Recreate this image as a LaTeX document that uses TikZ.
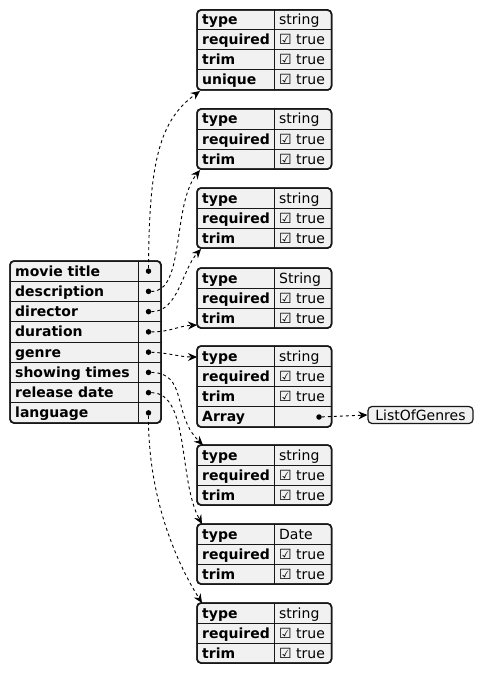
\documentclass[tikz,border=0pt]{standalone}
\usepackage{fontspec}
\setmainfont{DejaVu Sans}
\usetikzlibrary{arrows.meta}
\definecolor{tabfill}{HTML}{F1F1F1}
\definecolor{tabline}{HTML}{181818}
\tikzset{
 tabbox/.style={draw=tabline, fill=tabfill, line width=1.5pt, rounded corners=4pt, inner sep=0pt, outer sep=0pt, anchor=north west},
 rowline/.style={draw=tabline, line width=1pt},
 keytxt/.style={anchor=base west, inner sep=0pt, font=\fontsize{14}{16}\selectfont\bfseries},
 valtxt/.style={anchor=base west, inner sep=0pt, font=\fontsize{14}{16}\selectfont},
 dotmark/.style={circle, fill=black, inner sep=0pt, minimum size=5.5pt},
 link/.style={draw=black, line width=0.9pt, dash pattern=on 3pt off 3pt, -{Stealth[length=9pt,width=8pt,inset=3pt]}},
}
% #1 name, #2 left x, #3 top y, #4 width, #5 divider x, #6 nrows, #7 row height, #8 key x, #9 list
\newcommand\jtab[9]{%
  \node[tabbox, minimum width=#4pt, minimum height=#6*#7pt] (#1) at (#2,#3) {};
  \foreach[count=\i] \k/\v in {#9}{
    \pgfmathsetmacro\yc{#3+(\i-0.5)*#7}
    \node[keytxt] (#1-k\i) at (#8,\yc+5) {\k};
    \node[valtxt] (#1-v\i) at (#5+5,\yc+5) {\v};
    \ifnum\i>1 \draw[rowline] (#2,{#3+(\i-1)*#7}) -- ({#2+#4},{#3+(\i-1)*#7}); \fi
  }
  \draw[rowline] (#5,#3) -- (#5,{#3+#6*#7});
  \draw[tabline, line width=1.5pt, rounded corners=4pt] (#1.north west) rectangle (#1.south east);
}
\begin{document}
\begin{tikzpicture}[x=1pt,y=-1pt]
\useasboundingbox (0,0) rectangle (483,674);
% main table
\jtab{mt}{10}{261}{151}{138}{8}{20.25}{15}{movie title/{}, description/{}, director/{}, duration/{}, genre/{}, showing times/{}, release date/{}, language/{}}
\foreach \j in {1,...,8}{
  \node[dotmark] (d\j) at (148.5,{261+(\j-0.5)*20.25}) {};
}
% right tables
\jtab{t1}{197}{10}{134.5}{274}{4}{20}{202}{type/string, required/☑ true, trim/☑ true, unique/☑ true}
\jtab{t2}{197}{109}{134.5}{274}{3}{20}{202}{type/string, required/☑ true, trim/☑ true}
\jtab{t3}{197}{188}{134.5}{274}{3}{20}{202}{type/string, required/☑ true, trim/☑ true}
\jtab{t4}{197}{268}{134.5}{274}{3}{20}{202}{type/String, required/☑ true, trim/☑ true}
\jtab{t5}{197}{346}{134.5}{274}{4}{20.25}{202}{type/string, required/☑ true, trim/☑ true, Array/{}}
\jtab{t6}{197}{445}{134.5}{274}{3}{20}{202}{type/string, required/☑ true, trim/☑ true}
\jtab{t7}{197}{524}{134.5}{274}{3}{20}{202}{type/Date, required/☑ true, trim/☑ true}
\jtab{t8}{197}{603}{134.5}{274}{3}{20}{202}{type/string, required/☑ true, trim/☑ true}
% array dot and target
\node[dotmark] (ad) at (319,417) {};
\node[draw=tabline, fill=tabfill, line width=1.2pt, rounded corners=4pt, minimum width=105pt, minimum height=17pt, inner sep=0pt, font=\fontsize{14}{16}\selectfont] (lg) at (420.5,415) {ListOfGenres};
% connectors
\draw[link] (d1) .. controls (149,160) and (160,120) .. ([shift={(3,1)}]t1.south west);
\draw[link] (d2) .. controls (185,292) and (172,205) .. ([shift={(3,1)}]t2.south west);
\draw[link] (d3) .. controls (178,312) and (182,270) .. ([shift={(4,1)}]t3.south west);
\draw[link] (d4) .. controls (170,332) and (178,326) .. ([shift={(0,-3)}]t4.south west);
\draw[link] (d5) .. controls (170,353) and (180,357) .. ([shift={(0,11)}]t5.north west);
\draw[link] (d6) .. controls (188,373) and (172,415) .. ([shift={(6,0)}]t6.north west);
\draw[link] (d7) .. controls (190,393) and (178,480) .. ([shift={(5,0)}]t7.north west);
\draw[link] (d8) .. controls (148,500) and (178,565) .. ([shift={(5,0)}]t8.north west);
\draw[link] (ad) -- (lg.west);
\end{tikzpicture}
\end{document}
